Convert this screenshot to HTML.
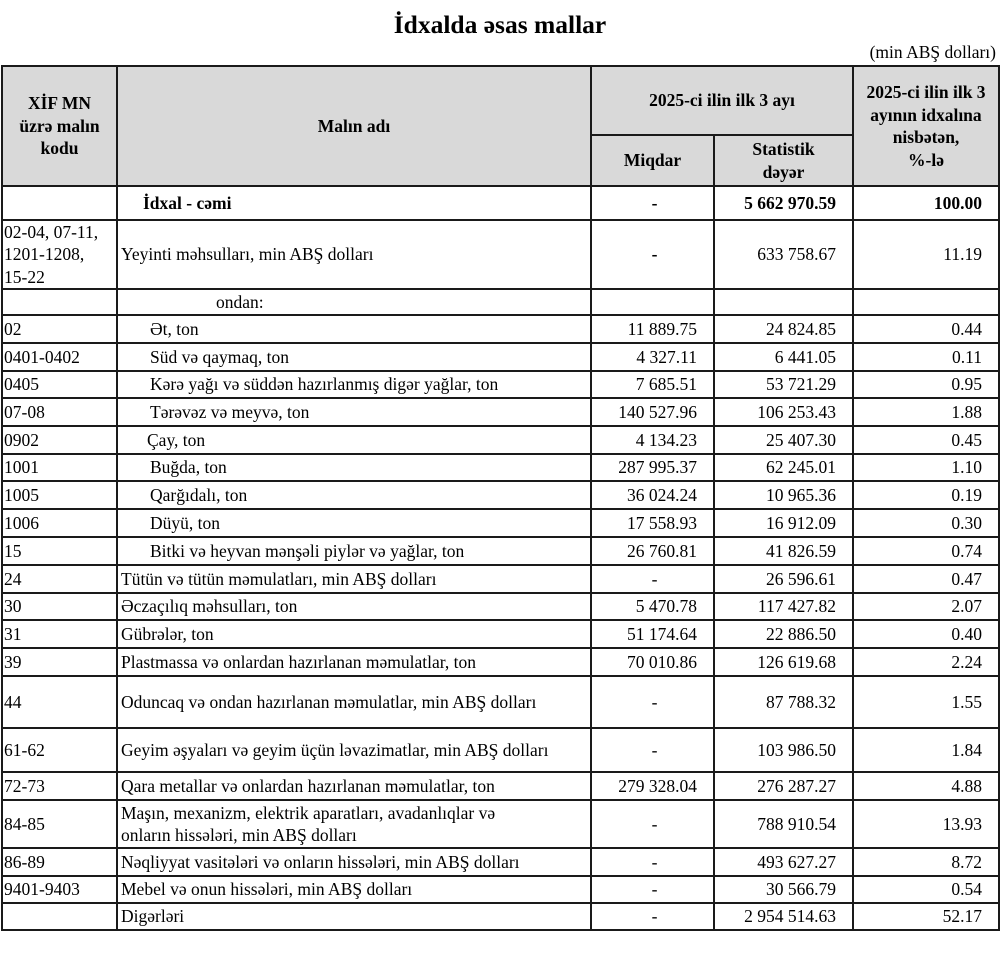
<!DOCTYPE html>
<html>
<head>
<meta charset="utf-8">
<style>
*{box-sizing:border-box;margin:0;padding:0}
html,body{width:1000px;height:955px;background:#fff;overflow:hidden}
body{position:relative;font-family:"Liberation Serif","DejaVu Serif",serif;color:#000}
.t{position:absolute;left:0;width:1000px;top:10px;text-align:center;font-weight:bold;font-size:25.5px;line-height:30px}
.u{position:absolute;right:4px;top:42px;font-size:17.5px;line-height:20px}
.hl{position:absolute;height:2px;background:#1a1a1a}
.vl{position:absolute;width:2px;background:#1a1a1a;top:65px;height:866px}
.bg{position:absolute;left:1px;top:65px;width:999px;height:122px;background:#d9d9d9}
.c{position:absolute;display:flex;align-items:center;white-space:nowrap;font-size:17.5px;line-height:22.5px}
.c1{left:3px;width:113px;padding-left:1px}
.c2{left:118px;width:472px;padding-left:3px}
.c3{left:592px;width:121px;justify-content:center;padding-left:4px}
.c3n{left:592px;width:121px;justify-content:flex-end;padding-right:16px}
.c4{left:715px;width:137px;justify-content:flex-end;padding-right:16px}
.c5{left:854px;width:144px;justify-content:flex-end;padding-right:16px}
.h{justify-content:center;text-align:center;font-weight:bold;padding:0}
.b{font-weight:bold}
.s{padding-left:32px}
</style>
</head>
<body>
<div class="t">İdxalda əsas mallar</div>
<div class="u">(min ABŞ dolları)</div>

<div class="bg"></div>

<!-- header cells -->
<div class="c c1 h" style="top:67px;height:118px;padding:0">XİF MN<br>üzrə malın<br>kodu</div>
<div class="c c2 h" style="top:67px;height:118px">Malın adı</div>
<div class="c h" style="left:592px;width:260px;top:67px;height:67px">2025-ci ilin ilk 3 ayı</div>
<div class="c h" style="left:592px;width:121px;top:136px;height:49px">Miqdar</div>
<div class="c h" style="left:715px;width:137px;top:136px;height:49px">Statistik<br>dəyər</div>
<div class="c h" style="left:854px;width:144px;top:67px;height:118px">2025-ci ilin ilk 3<br>ayının idxalına<br>nisbətən,<br>%-lə</div>

<!-- lines -->
<div class="hl" style="left:1px;width:999px;top:65px"></div>
<div class="hl" style="left:590px;width:264px;top:134px"></div>
<div class="hl" style="left:1px;width:999px;top:185px"></div>
<div class="hl" style="left:1px;width:999px;top:219px"></div>
<div class="hl" style="left:1px;width:999px;top:288px"></div>
<div class="hl" style="left:1px;width:999px;top:314px"></div>
<div class="hl" style="left:1px;width:999px;top:342px"></div>
<div class="hl" style="left:1px;width:999px;top:370px"></div>
<div class="hl" style="left:1px;width:999px;top:397px"></div>
<div class="hl" style="left:1px;width:999px;top:425px"></div>
<div class="hl" style="left:1px;width:999px;top:453px"></div>
<div class="hl" style="left:1px;width:999px;top:480px"></div>
<div class="hl" style="left:1px;width:999px;top:508px"></div>
<div class="hl" style="left:1px;width:999px;top:536px"></div>
<div class="hl" style="left:1px;width:999px;top:564px"></div>
<div class="hl" style="left:1px;width:999px;top:592px"></div>
<div class="hl" style="left:1px;width:999px;top:619px"></div>
<div class="hl" style="left:1px;width:999px;top:647px"></div>
<div class="hl" style="left:1px;width:999px;top:675px"></div>
<div class="hl" style="left:1px;width:999px;top:727px"></div>
<div class="hl" style="left:1px;width:999px;top:771px"></div>
<div class="hl" style="left:1px;width:999px;top:799px"></div>
<div class="hl" style="left:1px;width:999px;top:847px"></div>
<div class="hl" style="left:1px;width:999px;top:875px"></div>
<div class="hl" style="left:1px;width:999px;top:902px"></div>
<div class="hl" style="left:1px;width:999px;top:929px"></div>

<div class="vl" style="left:1px"></div>
<div class="vl" style="left:116px"></div>
<div class="vl" style="left:590px"></div>
<div class="vl" style="left:713px;top:134px;height:797px"></div>
<div class="vl" style="left:852px"></div>
<div class="vl" style="left:998px"></div>

<!-- İdxal -->
<div class="c c2 b" style="top:187px;height:32px;padding-left:25px">İdxal - cəmi</div>
<div class="c c3 b" style="top:187px;height:32px">-</div>
<div class="c c4 b" style="top:187px;height:32px">5 662 970.59</div>
<div class="c c5 b" style="top:187px;height:32px">100.00</div>

<!-- Yeyinti -->
<div class="c c1" style="top:221px;height:67px">02-04, 07-11,<br>1201-1208,<br>15-22</div>
<div class="c c2" style="top:221px;height:67px">Yeyinti məhsulları, min ABŞ dolları</div>
<div class="c c3 b" style="top:221px;height:67px">-</div>
<div class="c c4" style="top:221px;height:67px">633 758.67</div>
<div class="c c5" style="top:221px;height:67px">11.19</div>

<!-- ondan -->
<div class="c c2" style="top:290px;height:24px;padding-left:98px">ondan:</div>

<!-- Ət -->
<div class="c c1" style="top:316px;height:26px">02</div>
<div class="c c2 s" style="top:316px;height:26px">Ət, ton</div>
<div class="c c3n" style="top:316px;height:26px">11 889.75</div>
<div class="c c4" style="top:316px;height:26px">24 824.85</div>
<div class="c c5" style="top:316px;height:26px">0.44</div>

<div class="c c1" style="top:344px;height:26px">0401-0402</div>
<div class="c c2 s" style="top:344px;height:26px">Süd və qaymaq, ton</div>
<div class="c c3n" style="top:344px;height:26px">4 327.11</div>
<div class="c c4" style="top:344px;height:26px">6 441.05</div>
<div class="c c5" style="top:344px;height:26px">0.11</div>

<div class="c c1" style="top:372px;height:25px">0405</div>
<div class="c c2 s" style="top:372px;height:25px">Kərə yağı və süddən hazırlanmış digər yağlar, ton</div>
<div class="c c3n" style="top:372px;height:25px">7 685.51</div>
<div class="c c4" style="top:372px;height:25px">53 721.29</div>
<div class="c c5" style="top:372px;height:25px">0.95</div>

<div class="c c1" style="top:399px;height:26px">07-08</div>
<div class="c c2 s" style="top:399px;height:26px">Tərəvəz və meyvə, ton</div>
<div class="c c3n" style="top:399px;height:26px">140 527.96</div>
<div class="c c4" style="top:399px;height:26px">106 253.43</div>
<div class="c c5" style="top:399px;height:26px">1.88</div>

<div class="c c1" style="top:427px;height:26px">0902</div>
<div class="c c2" style="top:427px;height:26px;padding-left:29px">Çay, ton</div>
<div class="c c3n" style="top:427px;height:26px">4 134.23</div>
<div class="c c4" style="top:427px;height:26px">25 407.30</div>
<div class="c c5" style="top:427px;height:26px">0.45</div>

<div class="c c1" style="top:455px;height:25px">1001</div>
<div class="c c2 s" style="top:455px;height:25px">Buğda, ton</div>
<div class="c c3n" style="top:455px;height:25px">287 995.37</div>
<div class="c c4" style="top:455px;height:25px">62 245.01</div>
<div class="c c5" style="top:455px;height:25px">1.10</div>

<div class="c c1" style="top:482px;height:26px">1005</div>
<div class="c c2 s" style="top:482px;height:26px">Qarğıdalı, ton</div>
<div class="c c3n" style="top:482px;height:26px">36 024.24</div>
<div class="c c4" style="top:482px;height:26px">10 965.36</div>
<div class="c c5" style="top:482px;height:26px">0.19</div>

<div class="c c1" style="top:510px;height:26px">1006</div>
<div class="c c2 s" style="top:510px;height:26px">Düyü, ton</div>
<div class="c c3n" style="top:510px;height:26px">17 558.93</div>
<div class="c c4" style="top:510px;height:26px">16 912.09</div>
<div class="c c5" style="top:510px;height:26px">0.30</div>

<div class="c c1" style="top:538px;height:26px">15</div>
<div class="c c2 s" style="top:538px;height:26px">Bitki və heyvan mənşəli piylər və yağlar, ton</div>
<div class="c c3n" style="top:538px;height:26px">26 760.81</div>
<div class="c c4" style="top:538px;height:26px">41 826.59</div>
<div class="c c5" style="top:538px;height:26px">0.74</div>

<div class="c c1" style="top:566px;height:26px">24</div>
<div class="c c2" style="top:566px;height:26px">Tütün və tütün məmulatları, min ABŞ dolları</div>
<div class="c c3" style="top:566px;height:26px">-</div>
<div class="c c4" style="top:566px;height:26px">26 596.61</div>
<div class="c c5" style="top:566px;height:26px">0.47</div>

<div class="c c1" style="top:594px;height:25px">30</div>
<div class="c c2" style="top:594px;height:25px">Əczaçılıq məhsulları, ton</div>
<div class="c c3n" style="top:594px;height:25px">5 470.78</div>
<div class="c c4" style="top:594px;height:25px">117 427.82</div>
<div class="c c5" style="top:594px;height:25px">2.07</div>

<div class="c c1" style="top:621px;height:26px">31</div>
<div class="c c2" style="top:621px;height:26px">Gübrələr, ton</div>
<div class="c c3n" style="top:621px;height:26px">51 174.64</div>
<div class="c c4" style="top:621px;height:26px">22 886.50</div>
<div class="c c5" style="top:621px;height:26px">0.40</div>

<div class="c c1" style="top:649px;height:26px">39</div>
<div class="c c2" style="top:649px;height:26px">Plastmassa və onlardan hazırlanan məmulatlar, ton</div>
<div class="c c3n" style="top:649px;height:26px">70 010.86</div>
<div class="c c4" style="top:649px;height:26px">126 619.68</div>
<div class="c c5" style="top:649px;height:26px">2.24</div>

<div class="c c1" style="top:677px;height:50px">44</div>
<div class="c c2" style="top:677px;height:50px">Oduncaq və ondan hazırlanan məmulatlar, min ABŞ dolları</div>
<div class="c c3" style="top:677px;height:50px">-</div>
<div class="c c4" style="top:677px;height:50px">87 788.32</div>
<div class="c c5" style="top:677px;height:50px">1.55</div>

<div class="c c1" style="top:729px;height:42px">61-62</div>
<div class="c c2" style="top:729px;height:42px">Geyim əşyaları və geyim üçün ləvazimatlar, min ABŞ dolları</div>
<div class="c c3" style="top:729px;height:42px">-</div>
<div class="c c4" style="top:729px;height:42px">103 986.50</div>
<div class="c c5" style="top:729px;height:42px">1.84</div>

<div class="c c1" style="top:773px;height:26px">72-73</div>
<div class="c c2" style="top:773px;height:26px">Qara metallar və onlardan hazırlanan məmulatlar, ton</div>
<div class="c c3n" style="top:773px;height:26px">279 328.04</div>
<div class="c c4" style="top:773px;height:26px">276 287.27</div>
<div class="c c5" style="top:773px;height:26px">4.88</div>

<div class="c c1" style="top:801px;height:46px">84-85</div>
<div class="c c2" style="top:801px;height:46px">Maşın, mexanizm, elektrik aparatları, avadanlıqlar və<br>onların hissələri, min ABŞ dolları</div>
<div class="c c3" style="top:801px;height:46px">-</div>
<div class="c c4" style="top:801px;height:46px">788 910.54</div>
<div class="c c5" style="top:801px;height:46px">13.93</div>

<div class="c c1" style="top:849px;height:26px">86-89</div>
<div class="c c2" style="top:849px;height:26px">Nəqliyyat vasitələri və onların hissələri, min ABŞ dolları</div>
<div class="c c3" style="top:849px;height:26px">-</div>
<div class="c c4" style="top:849px;height:26px">493 627.27</div>
<div class="c c5" style="top:849px;height:26px">8.72</div>

<div class="c c1" style="top:877px;height:25px">9401-9403</div>
<div class="c c2" style="top:877px;height:25px">Mebel və onun hissələri, min ABŞ dolları</div>
<div class="c c3" style="top:877px;height:25px">-</div>
<div class="c c4" style="top:877px;height:25px">30 566.79</div>
<div class="c c5" style="top:877px;height:25px">0.54</div>

<div class="c c2" style="top:904px;height:25px">Digərləri</div>
<div class="c c3" style="top:904px;height:25px">-</div>
<div class="c c4" style="top:904px;height:25px">2 954 514.63</div>
<div class="c c5" style="top:904px;height:25px">52.17</div>
</body>
</html>
